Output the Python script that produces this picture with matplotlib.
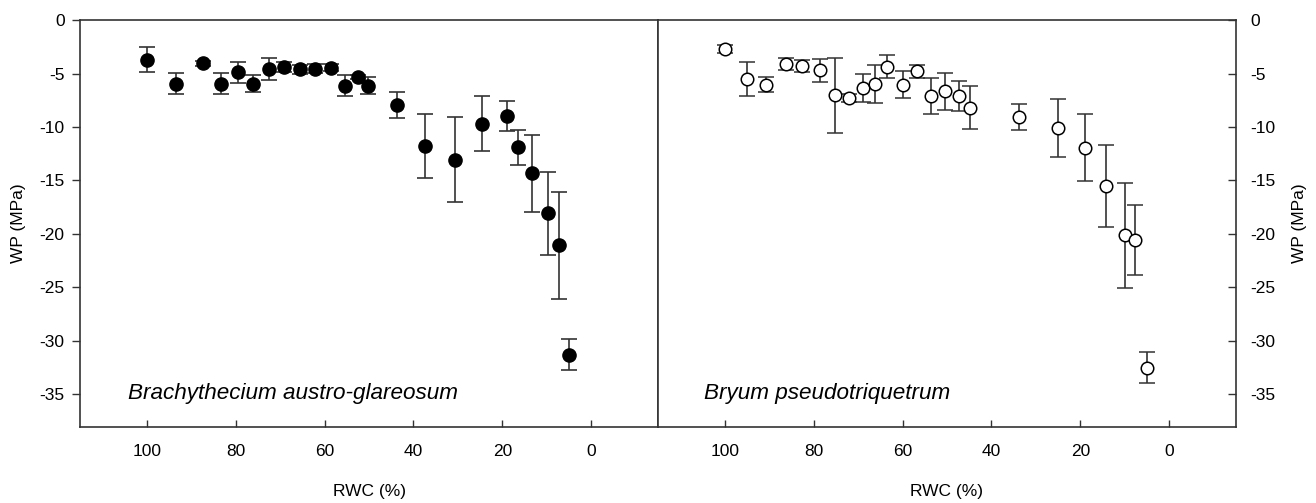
import matplotlib
matplotlib.use('Agg')
import matplotlib.pyplot as plt
import numpy as np

plt.rcParams['font.family'] = ['Liberation Sans', 'DejaVu Sans']
plt.rcParams['axes.unicode_minus'] = False

# Brachythecium austro-glareosum
rwc_b = [100, 93.3, 87.3, 83.3, 79.4, 76, 72.5, 69.1, 65.6, 62.2, 58.5, 55.3, 52.4, 50.2,
         43.8, 37.4, 30.7, 24.6, 19, 16.6, 13.3, 9.8, 7.2, 5]
wp_b = [-3.7, -5.95, -4.05, -5.95, -4.9, -5.95, -4.55, -4.4, -4.6, -4.55, -4.45, -6.15, -5.3, -6.15,
        -7.95, -11.8, -13.05, -9.7, -8.95, -11.9, -14.35, -18.1, -21.1, -31.35]
err_b = [1.2, 1.0, 0.2, 1.0, 1.0, 0.8, 1.05, 0.45, 0.4, 0.4, 0.3, 1.0, 0.2, 0.8,
         1.25, 3.0, 4.0, 2.6, 1.4, 1.65, 3.6, 3.85, 5.0, 1.45]

# Bryum pseudotriquetrum
rwc_p = [100, 95, 90.8, 86.2, 82.5, 78.6, 75.3, 72.1, 69, 66.1, 63.4, 60, 56.7, 53.6,
         50.4, 47.3, 44.8, 33.7, 25, 18.9, 14.2, 9.9, 7.7, 5]
wp_p = [-2.7, -5.55, -6.05, -4.1, -4.3, -4.7, -7.05, -7.3, -6.35, -6.0, -4.35, -6.05, -4.8, -7.1,
        -6.65, -7.1, -8.2, -9.05, -10.1, -11.95, -15.5, -20.15, -20.6, -32.55]
err_p = [0.4, 1.6, 0.7, 0.6, 0.6, 1.1, 3.5, 0.4, 1.35, 1.8, 1.1, 1.27, 0.58, 1.7,
         1.72, 1.4, 2.0, 1.2, 2.75, 3.15, 3.85, 4.9, 3.3, 1.47]

xticks = [100, 80, 60, 40, 20, 0]
yticks = [0, -5, -10, -15, -20, -25, -30, -35]
edge = '#333333'

fig, (ax1, ax2) = plt.subplots(1, 2, figsize=(13.16, 5.03), dpi=100, sharey=True)
fig.subplots_adjust(left=0.0608, right=0.9392, bottom=0.151, top=0.960, wspace=0)

ax1.errorbar(rwc_b, wp_b, yerr=err_b, fmt='o', ms=9.5, mfc='black', mec='black',
             ecolor=edge, elinewidth=1.2, capsize=6, capthick=1.2, zorder=3)
ax2.errorbar(rwc_p, wp_p, yerr=err_p, fmt='o', ms=9, mfc='white', mec='black', mew=1.1,
             ecolor=edge, elinewidth=1.2, capsize=6, capthick=1.2, zorder=3)

for ax in (ax1, ax2):
    ax.set_xlim(115, -15)
    ax.set_ylim(-38.1, 0)
    ax.set_xticks(xticks)
    ax.set_yticks(yticks)
    ax.set_xlabel('RWC (%)', fontsize=12.5, labelpad=18)
    for s in ax.spines.values():
        s.set_color(edge)
        s.set_linewidth(1.2)
    ax.tick_params(axis='x', direction='in', length=5, width=1, colors=edge,
                   labelcolor='black', labelsize=12.5, pad=12)

ax1.tick_params(axis='y', direction='out', length=6, width=1, colors=edge,
                labelcolor='black', labelsize=12.5, pad=5)
ax1.set_ylabel('WP (MPa)', fontsize=12.5, labelpad=10)

ax2.yaxis.tick_right()
ax2.yaxis.set_label_position('right')
ax2.tick_params(axis='y', which='both', left=False, right=True, labelleft=False,
                labelright=True, direction='in', length=6, width=1, colors=edge,
                labelcolor='black', labelsize=12.5, pad=10)
ax2.set_ylabel('WP (MPa)', fontsize=12.5, labelpad=12)

ax1.text(104.3, -35, 'Brachythecium austro-glareosum', fontsize=16.2, style='italic', va='center')
ax2.text(104.7, -35, 'Bryum pseudotriquetrum', fontsize=16.2, style='italic', va='center')

fig.savefig('out.png', dpi=100)
